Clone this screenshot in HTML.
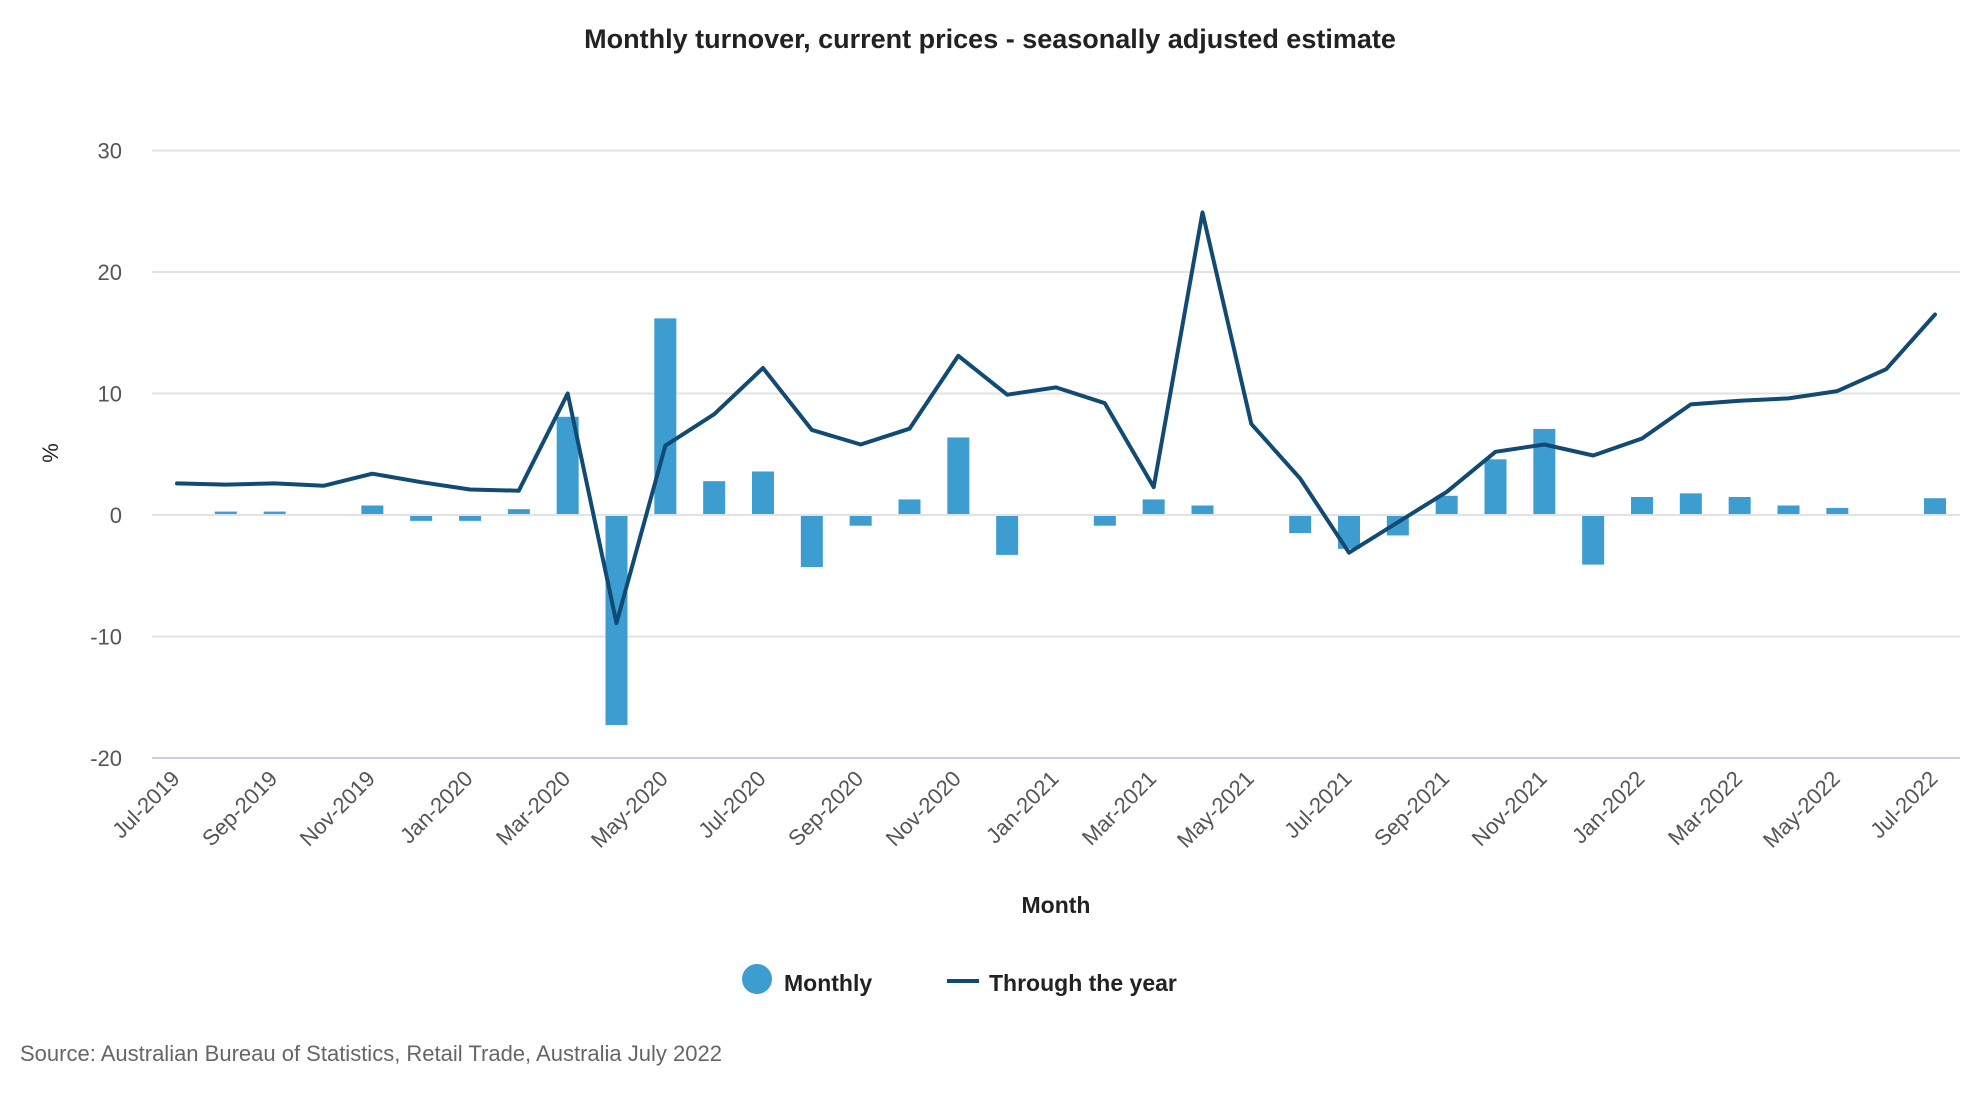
<!DOCTYPE html>
<html><head><meta charset="utf-8"><style>
html,body{margin:0;padding:0;background:#fff;}
svg text{font-family:"Liberation Sans",sans-serif;}
</style></head><body>
<svg id="chart" width="1980" height="1100" viewBox="0 0 1980 1100" xmlns="http://www.w3.org/2000/svg">
<text x="990" y="48" text-anchor="middle" font-size="27" font-weight="bold" fill="#222">Monthly turnover, current prices - seasonally adjusted estimate</text>
<g id="grid"></g>
<g id="bars"></g>
<g id="line"></g>
<g id="xlabels"></g>
<text transform="translate(58,453) rotate(-90)" text-anchor="middle" font-size="22" fill="#222">%</text>
<text x="1056" y="913" text-anchor="middle" font-size="23" font-weight="bold" fill="#222">Month</text>
<g>
<circle cx="757" cy="979" r="15" fill="#3d9dd1"/>
<text x="784" y="991" font-size="23" font-weight="bold" fill="#222">Monthly</text>
</g>
<g>
<line x1="947" y1="981" x2="979" y2="981" stroke="#114a72" stroke-width="4"/>
<text x="989" y="991" font-size="23" font-weight="bold" fill="#222">Through the year</text>
</g>
<text x="20" y="1061" font-size="22" fill="#666">Source: Australian Bureau of Statistics, Retail Trade, Australia July 2022</text>
</svg>
<script>
const months = ["Jul-2019","Aug-2019","Sep-2019","Oct-2019","Nov-2019","Dec-2019","Jan-2020","Feb-2020","Mar-2020","Apr-2020","May-2020","Jun-2020","Jul-2020","Aug-2020","Sep-2020","Oct-2020","Nov-2020","Dec-2020","Jan-2021","Feb-2021","Mar-2021","Apr-2021","May-2021","Jun-2021","Jul-2021","Aug-2021","Sep-2021","Oct-2021","Nov-2021","Dec-2021","Jan-2022","Feb-2022","Mar-2022","Apr-2022","May-2022","Jun-2022","Jul-2022"];
const monthly = [0,0.2,0.2,0,0.7,-0.4,-0.4,0.4,8.0,-17.2,16.1,2.7,3.5,-4.2,-0.8,1.2,6.3,-3.2,0,-0.8,1.2,0.7,0,-1.4,-2.7,-1.6,1.5,4.5,7.0,-4.0,1.4,1.7,1.4,0.7,0.5,0,1.3];
const throughYear = [2.6,2.5,2.6,2.4,3.4,2.7,2.1,2.0,10.0,-8.9,5.7,8.3,12.1,7.0,5.8,7.1,13.1,9.9,10.5,9.2,2.3,24.9,7.5,3.0,-3.1,-0.6,1.9,5.2,5.8,4.9,6.3,9.1,9.4,9.6,10.2,12.0,16.5];
const yTicks = [30,20,10,0,-10,-20];

const NS="http://www.w3.org/2000/svg";
const X0=177, X1=1935, Y0=515, PX10=121.5;
const x=i=>X0+i*(X1-X0)/(months.length-1);
const y=v=>Y0-v*PX10/10;
function mk(tag,attrs,parent){const e=document.createElementNS(NS,tag);for(const k in attrs)e.setAttribute(k,attrs[k]);parent.appendChild(e);return e;}
const grid=document.getElementById('grid');
yTicks.forEach(t=>{
  const l=mk('line',{x1:152,x2:1960,y1:y(t),y2:y(t),stroke:t===-20?'#c8d0e0':'#e2e2e2','stroke-width':2},grid);
  
  
  const tx=mk('text',{x:122,y:y(t)+8,'text-anchor':'end','font-size':22,fill:'#555'},grid);
  tx.textContent=t;
  
  
});
const bars=document.getElementById('bars');
monthly.forEach((v,i)=>{
  const top=Math.min(y(v),Y0), h=Math.abs(y(v)-Y0);
  const r=mk('rect',{x:x(i)-11,y:v>=0?top-1:Y0+1,width:22,height:Math.max(h,0),fill:'#3d9dd1'},bars);
  
  
});
const pts=throughYear.map((v,i)=>x(i).toFixed(1)+','+y(v).toFixed(1)).join(' ');
const pl=mk('polyline',{points:pts,fill:'none',stroke:'#114a72','stroke-width':4,'stroke-linejoin':'round','stroke-linecap':'round'},document.getElementById('line'));


const xl=document.getElementById('xlabels');
months.forEach((m,i)=>{
  if(i%2)return;
  const t=mk('text',{transform:`translate(${x(i)+4},${780}) rotate(-45)`,'text-anchor':'end','font-size':22,fill:'#555'},xl);
  t.textContent=m;
  
  
});
</script>
</body></html>
